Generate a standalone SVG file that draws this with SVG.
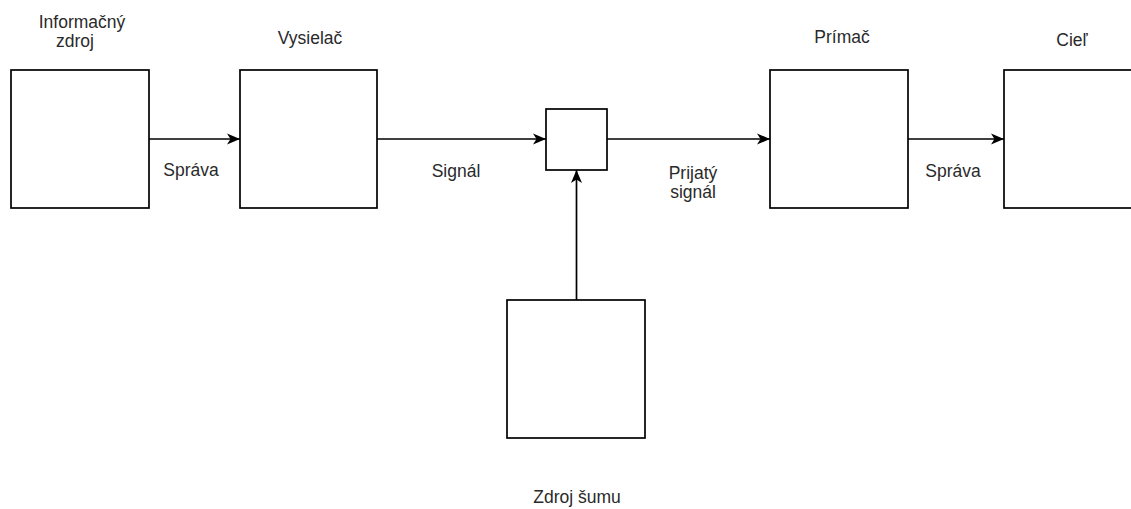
<svg xmlns="http://www.w3.org/2000/svg" width="1131" height="509" viewBox="0 0 1131 509">
  <style>
    .box { fill: #ffffff; stroke: #000000; stroke-width: 1.7; }
    .edge { fill: none; stroke: #000000; stroke-width: 1.7; }
    .lbl { font-family: "Liberation Sans", Arial, Helvetica, sans-serif; font-size: 17.5px; fill: #2a2a2a; text-anchor: middle; }
  </style>
  <defs>
    <marker id="arrow" markerUnits="userSpaceOnUse" markerWidth="14" markerHeight="12" viewBox="0 0 14 12" refX="13" refY="6" orient="auto">
      <path d="M0,0.5 L13,6 L0,11.5 L3.5,6 Z" fill="#000000"/>
    </marker>
  </defs>

  <rect width="1131" height="509" fill="#ffffff"/>

  <!-- connectors -->
  <g id="connectors">
    <line class="edge" x1="149" y1="139" x2="240" y2="139" marker-end="url(#arrow)"/>
    <line class="edge" x1="377" y1="139" x2="546" y2="139" marker-end="url(#arrow)"/>
    <line class="edge" x1="607" y1="139" x2="770" y2="139" marker-end="url(#arrow)"/>
    <line class="edge" x1="908" y1="139" x2="1004" y2="139" marker-end="url(#arrow)"/>
    <line class="edge" x1="576.5" y1="300" x2="576.5" y2="170" marker-end="url(#arrow)"/>
    <text class="lbl" x="191" y="176">Správa</text>
    <text class="lbl" x="456" y="177">Signál</text>
    <text class="lbl" x="693" y="179">Prijatý</text>
    <text class="lbl" x="693" y="198">signál</text>
    <text class="lbl" x="953" y="177">Správa</text>
  </g>

  <!-- nodes -->
  <g id="info-source">
    <rect class="box" x="11" y="70" width="138" height="138"/>
    <text class="lbl" x="82" y="28">Informačný</text>
    <text class="lbl" x="75" y="47">zdroj</text>
  </g>
  <g id="transmitter">
    <rect class="box" x="240" y="70" width="137" height="138"/>
    <text class="lbl" x="310" y="44">Vysielač</text>
  </g>
  <g id="channel">
    <rect class="box" x="546" y="109" width="61" height="61"/>
  </g>
  <g id="receiver">
    <rect class="box" x="770" y="70" width="138" height="138"/>
    <text class="lbl" x="842" y="43">Prímač</text>
  </g>
  <g id="destination">
    <rect class="box" x="1004" y="70" width="138" height="138"/>
    <text class="lbl" x="1072" y="46">Cieľ</text>
  </g>
  <g id="noise-source">
    <rect class="box" x="507" y="300" width="138" height="138"/>
    <text class="lbl" x="577" y="503">Zdroj šumu</text>
  </g>
</svg>
